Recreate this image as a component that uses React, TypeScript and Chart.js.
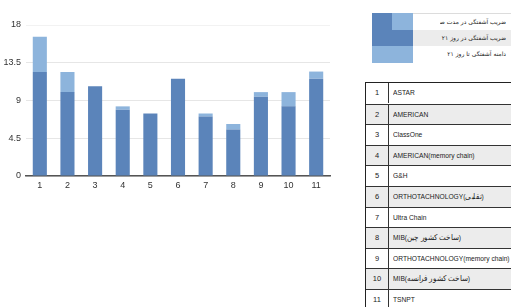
import React, { useEffect, useRef } from "react";
import { Chart, registerables } from "chart.js";

Chart.register(...registerables);

const categories = ["1", "2", "3", "4", "5", "6", "7", "8", "9", "10", "11"];
// dark part (base) and full bar height (top of light part)
const darkValues = [12.4, 10.0, 10.7, 7.9, 7.45, 11.6, 7.1, 5.55, 9.45, 8.3, 11.6];
const totalValues = [16.6, 12.4, 10.7, 8.3, 7.45, 11.6, 7.45, 6.2, 10.0, 10.0, 12.45];
const yTicks = [0, 4.5, 9, 13.5, 18];

const legendLabels = [
  "ضریب آشفتگی در مدت صفر",
  "ضریب آشفتگی در روز ۲۱",
  "دامنه آشفتگی تا روز ۲۱",
];

const tableNames = [
  "ASTAR",
  "AMERICAN",
  "ClassOne",
  "AMERICAN(memory chain)",
  "G&H",
  "ORTHOTACHNOLOGY(تقلبی)",
  "Ultra Chain",
  "MIB(ساخت کشور چین)",
  "ORTHOTACHNOLOGY(memory chain)",
  "MIB(ساخت کشور فرانسه)",
  "TSNPT",
];

const DARK = "#5b84ba";
const LIGHT = "#8db4dc";

function BarChart() {
  const ref = useRef<HTMLCanvasElement | null>(null);
  useEffect(() => {
    if (!ref.current) return;
    const chart = new Chart(ref.current, {
      type: "bar",
      data: {
        labels: categories,
        datasets: [
          {
            label: "dark",
            data: darkValues,
            backgroundColor: DARK,
            barPercentage: 0.51,
            categoryPercentage: 1,
          },
          {
            label: "light",
            data: totalValues.map((t, i) => +(t - darkValues[i]).toFixed(2)),
            backgroundColor: LIGHT,
            barPercentage: 0.51,
            categoryPercentage: 1,
          },
        ],
      },
      options: {
        responsive: false,
        animation: false,
        layout: { padding: { top: 25, right: 10, left: 0, bottom: 0 } },
        plugins: { legend: { display: false }, tooltip: { enabled: false } },
        scales: {
          x: {
            stacked: true,
            grid: { display: false, drawTicks: false },
            border: { display: true, color: "#555", width: 1.5 },
            ticks: {
              color: "#333",
              font: { family: "Liberation Sans", size: 9 },
              padding: 4,
              maxRotation: 0,
            },
            afterFit: (s: any) => {
              s.height = 24;
            },
          },
          y: {
            stacked: true,
            min: 0,
            max: 18,
            afterBuildTicks: (s: any) => {
              s.ticks = yTicks.map((v) => ({ value: v }));
            },
            ticks: {
              color: "#333",
              font: { family: "Liberation Sans", size: 9 },
              padding: 5,
              callback: (v: any) => String(v),
            },
            grid: {
              drawTicks: false,
              color: (ctx: any) =>
                ctx.tick && ctx.tick.value === 18 ? "#f2f2f2" : "#e6e6e6",
              lineWidth: 1,
            },
            border: { display: false },
            afterFit: (s: any) => {
              s.width = 26;
            },
          },
        },
      },
    });
    return () => chart.destroy();
  }, []);
  return (
    <canvas
      ref={ref}
      width={340}
      height={200}
      style={{ position: "absolute", left: 0, top: 0, width: 340, height: 200 }}
    />
  );
}

export default function App() {
  const rowH = 20.6;
  return (
    <div
      style={{
        position: "fixed",
        left: 0,
        top: 0,
        width: 511,
        height: 307,
        overflow: "hidden",
        background: "#fff",
      }}
    >
      <BarChart />
      {/* legend swatch */}
      <div style={{ position: "absolute", left: 372, top: 13, width: 20, height: 17, background: DARK }} />
      <div style={{ position: "absolute", left: 392, top: 13, width: 21, height: 17, background: LIGHT }} />
      <div style={{ position: "absolute", left: 372, top: 30, width: 41, height: 16, background: DARK }} />
      <div style={{ position: "absolute", left: 372, top: 46, width: 41, height: 17, background: LIGHT }} />
      {/* legend rows */}
      <div style={{ position: "absolute", left: 413, top: 13, width: 98, height: 1, background: "#dcdcdc" }} />
      <div style={{ position: "absolute", left: 413, top: 30, width: 98, height: 16, background: "#ececec" }} />
      {legendLabels.map((t, i) => (
        <div
          key={i}
          style={{
            position: "absolute",
            left: 440,
            top: [14, 30, 46][i],
            width: 66,
            height: 16,
            lineHeight: "16px",
            overflow: "hidden",
            whiteSpace: "nowrap",
            direction: "rtl",
            textAlign: "right",
            fontFamily: "DejaVu Sans",
            fontSize: 6,
            color: "#222",
          }}
        >
          {t}
        </div>
      ))}
      {/* table */}
      <div
        style={{
          position: "absolute",
          left: 365,
          top: 82,
          width: 170,
          height: rowH * 11,
          border: "1.5px solid #222",
          boxSizing: "border-box",
        }}
      >
        {tableNames.map((name, i) => (
          <div
            key={i}
            style={{
              position: "absolute",
              left: 0,
              top: i * rowH,
              width: 170,
              height: rowH,
              background: i % 2 === 1 ? "#ececec" : "#fff",
              borderTop: i === 0 ? "none" : "1px solid #333",
              boxSizing: "border-box",
              fontFamily: "'Liberation Sans', Arial, sans-serif",
              fontSize: 7.5,
              color: "#222",
            }}
          >
            <div
              style={{
                position: "absolute",
                left: 0,
                top: 0,
                width: 22,
                height: rowH - 1,
                lineHeight: `${rowH - 1}px`,
                textAlign: "center",
                borderRight: "1px solid #333",
              }}
            >
              {i + 1}
            </div>
            <div
              style={{
                position: "absolute",
                left: 27,
                top: 0,
                height: rowH - 1,
                lineHeight: `${rowH - 1}px`,
                whiteSpace: "nowrap",
                transform: "scaleX(0.89)",
                transformOrigin: "left center",
              }}
            >
              {name}
            </div>
          </div>
        ))}
      </div>
    </div>
  );
}
